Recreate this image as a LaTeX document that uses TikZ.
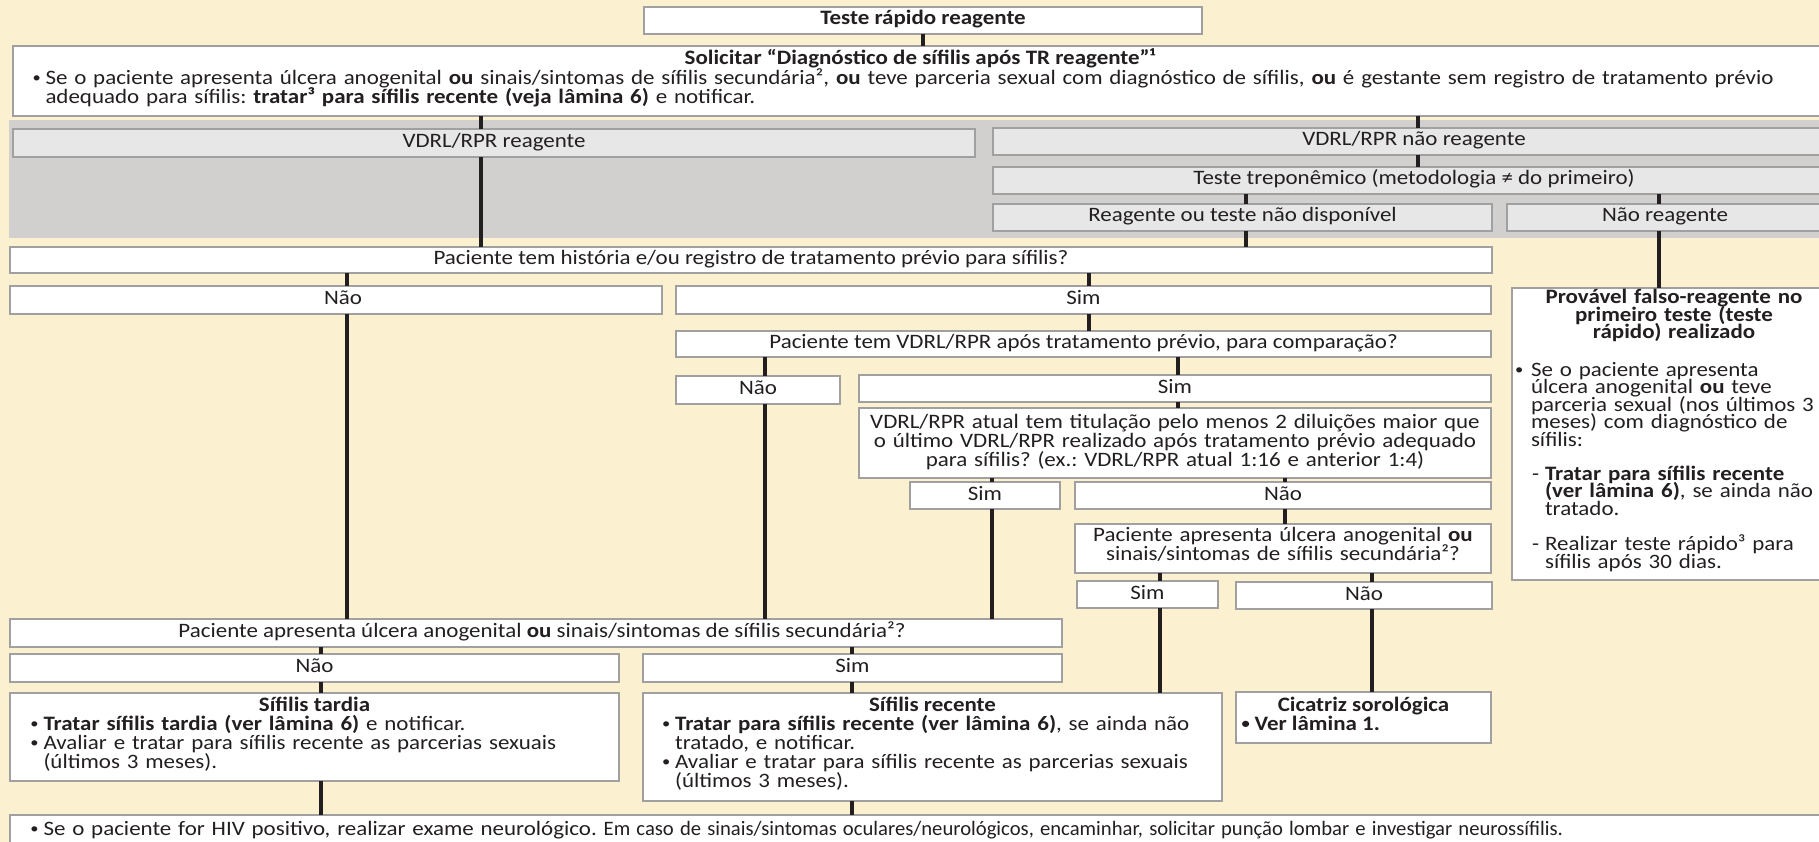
\documentclass[tikz,border=0pt]{standalone}
\usepackage{graphicx}
\usepackage{fontspec}
\setmainfont{Carlito}[FakeStretch=1.12]
\definecolor{cream}{RGB}{251,240,207}
\definecolor{bandgray}{RGB}{209,208,207}
\definecolor{boxgray}{RGB}{231,231,231}
\definecolor{edgegray}{RGB}{160,160,160}
\definecolor{ink}{RGB}{35,31,32}
\newcommand{\fsz}{\fontsize{20.5pt}{19pt}\selectfont\lineskiplimit=-40pt\frenchspacing\relax}
\newcommand{\fszt}{\fontsize{20.5pt}{17.5pt}\selectfont\lineskiplimit=-40pt\frenchspacing\relax}
\newcommand{\fszp}{\fontsize{20.5pt}{17.5pt}\selectfont\lineskiplimit=-40pt\frenchspacing\relax}
\newcommand{\smbul}{\raisebox{1.8pt}{\scalebox{0.72}{•}}}
\newcommand{\mybul}{\makebox[13.5pt][l]{\hspace{0.5pt}\smbul}}
\newcommand{\myind}{\hspace*{13.5pt}}
\lineskiplimit=-40pt
\frenchspacing
\begin{document}
\begin{tikzpicture}[x=1pt,y=-1pt,
  box/.style={draw=edgegray, line width=1.6pt, fill=white, anchor=north west, inner sep=0pt, outer sep=0pt, text=ink, font=\fsz, text height=13pt, text depth=4pt},
  gbox/.style={box, fill=boxgray},
  txt/.style={inner sep=0pt, outer sep=0pt, text=ink, font=\fsz},
  conn/.style={draw=ink, line width=3.6pt}]
\useasboundingbox (0,0) rectangle (1819,842);
\clip (0,0) rectangle (1819,842);
\fill[cream] (0,0) rectangle (1819,842);
\fill[bandgray] (9,120) rectangle (1830,238);

% boxes
\node[box, minimum width=558pt, minimum height=27pt] (teste) at (644,7) {\bfseries Teste rápido reagente};
\node[box, minimum width=1822pt, minimum height=70pt] (solic) at (13,46) {};
\node[gbox, minimum width=962pt, minimum height=28pt] (vdrlr) at (13,129) {VDRL/RPR reagente};
\node[gbox, minimum width=842pt, minimum height=27pt] (vdrln) at (993,128) {VDRL/RPR não reagente};
\node[gbox, minimum width=842pt, minimum height=27pt] (trep) at (993,167) {Teste treponêmico (metodologia ≠ do primeiro)};
\node[gbox, minimum width=499pt, minimum height=27pt] (reag) at (993,204) {Reagente ou teste não disponível};
\node[gbox, minimum width=316pt, minimum height=27pt] (naoreag) at (1507,204) {Não reagente};
\node[box, minimum width=1482pt, minimum height=26pt] (hist) at (10,247) {Paciente tem história e/ou registro de tratamento prévio para sífilis?};
\node[box, minimum width=652pt, minimum height=28pt] (nao1) at (10,286) {\hspace*{14pt}Não};
\node[box, minimum width=815pt, minimum height=28pt] (sim1) at (676,286) {Sim};
\node[box, minimum width=815pt, minimum height=26pt] (pvdrl) at (676,331) {Paciente tem VDRL/RPR após tratamento prévio, para comparação?};
\node[box, minimum width=164pt, minimum height=28pt] (nao2) at (676,376) {Não};
\node[box, minimum width=632pt, minimum height=27pt] (sim2) at (859,375) {Sim};
\node[box, minimum width=632pt, minimum height=70pt] (atual) at (859,408) {};
\node[box, minimum width=150pt, minimum height=27pt] (sim3) at (910,482) {Sim};
\node[box, minimum width=416pt, minimum height=27pt] (nao3) at (1075,482) {Não};
\node[box, minimum width=416pt, minimum height=49pt] (apright) at (1075,524) {};
\node[box, minimum width=141pt, minimum height=27pt] (sim4) at (1077,581) {Sim};
\node[box, minimum width=256pt, minimum height=27pt] (nao4) at (1236,582) {Não};
\node[box, minimum width=255pt, minimum height=51pt] (cicatriz) at (1236,692) {};
\node[box, minimum width=323pt, minimum height=292pt] (prov) at (1512,288) {};
\node[box, minimum width=1052pt, minimum height=28pt] (apleft) at (10,619) {\hspace*{12pt}Paciente apresenta úlcera anogenital \textbf{ou} sinais/sintomas de sífilis secundária²?};
\node[box, minimum width=609pt, minimum height=28pt] (nao5) at (10,654) {Não};
\node[box, minimum width=419pt, minimum height=28pt] (sim5) at (643,654) {Sim};
\node[box, minimum width=609pt, minimum height=88pt] (tardia) at (10,693) {};
\node[box, minimum width=579pt, minimum height=108pt] (recente) at (643,693) {};
\node[box, minimum width=1825pt, minimum height=45pt] (hiv) at (10,815) {};

% multi-line texts
\node[txt, anchor=base] (solict) at (920,65) {\bfseries Solicitar “Diagnóstico de sífilis após TR reagente”¹};
\node[txt, anchor=base west, text width=1900pt, align=left] (solicb) at (32,84.5) {\mybul Se o paciente apresenta úlcera anogenital \textbf{ou} sinais/sintomas de sífilis secundária², \textbf{ou} teve parceria sexual com diagnóstico de sífilis, \textbf{ou} é gestante sem registro de tratamento prévio\\\myind adequado para sífilis: \textbf{tratar³ para sífilis recente (veja lâmina 6)} e notificar.};
\node[txt, anchor=base, text width=660pt, align=center] (atualt) at (1175,428) {VDRL/RPR atual tem titulação pelo menos 2 diluições maior que\\o último VDRL/RPR realizado após tratamento prévio adequado\\para sífilis? (ex.: VDRL/RPR atual 1:16 e anterior 1:4)};
\node[txt, anchor=base, text width=440pt, align=center] (aprightt) at (1283,541.7) {Paciente apresenta úlcera anogenital \textbf{ou}\\sinais/sintomas de sífilis secundária²?};
\node[txt, anchor=base] (cicatt) at (1363.5,711.7) {\bfseries Cicatriz sorológica};
\node[txt, anchor=base west] (cicatb) at (1241.7,730) {\bfseries\makebox[13pt][l]{\smbul}Ver lâmina 1.};
\node[txt, anchor=base, text width=330pt, align=center, font=\fszt\bfseries] (provt) at (1674,303.5) {Provável falso-reagente no\\primeiro teste (teste\\rápido) realizado};
\node[txt, anchor=base west, text width=330pt, align=left, font=\fszp] (provb1) at (1515,376) {\makebox[16pt][l]{\smbul}Se o paciente apresenta\\\hspace*{16pt}úlcera anogenital \textbf{ou} teve\\\hspace*{16pt}parceria sexual (nos últimos 3\\\hspace*{16pt}meses) com diagnóstico de\\\hspace*{16pt}sífilis:};
\node[txt, anchor=base west, text width=330pt, align=left, font=\fszp] (provb2) at (1532,480) {\makebox[13pt][l]{-}\textbf{Tratar para sífilis recente}\\\hspace*{13pt}\textbf{(ver lâmina 6)}, se ainda não\\\hspace*{13pt}tratado.};
\node[txt, anchor=base west, text width=330pt, align=left, font=\fszp] (provb3) at (1532,550.7) {\makebox[13pt][l]{-}Realizar teste rápido³ para\\\hspace*{13pt}sífilis após 30 dias.};
\node[txt, anchor=base] (tardt) at (314.5,711) {\bfseries Sífilis tardia};
\node[txt, anchor=base west, text width=600pt, align=left] (tardb) at (30,730) {\mybul\textbf{Tratar sífilis tardia (ver lâmina 6)} e notificar.\\\mybul Avaliar e tratar para sífilis recente as parcerias sexuais\\\myind(últimos 3 meses).};
\node[txt, anchor=base] (recet) at (932.5,711) {\bfseries Sífilis recente};
\node[txt, anchor=base west, text width=600pt, align=left] (receb) at (661.6,730) {\mybul\textbf{Tratar para sífilis recente (ver lâmina 6)}, se ainda não\\\myind tratado, e notificar.\\\mybul Avaliar e tratar para sífilis recente as parcerias sexuais\\\myind(últimos 3 meses).};
\node[txt, anchor=base west, text width=1900pt, align=left] (hivt) at (30,835) {\mybul Se o paciente for HIV positivo, realizar exame neurológico. \scalebox{0.9}[1]{Em caso de sinais/sintomas oculares/neurológicos, encaminhar, solicitar punção lombar e investigar neurossífilis.}};

% connector lanes
\coordinate (L923) at (923,0);
\coordinate (L481) at (481,0);
\coordinate (L1418) at (1418,0);
\coordinate (L1246) at (1246,0);
\coordinate (L1659) at (1659,0);
\coordinate (L347) at (347,0);
\coordinate (L1089) at (1089,0);
\coordinate (L765) at (765,0);
\coordinate (L1178) at (1178,0);
\coordinate (L992) at (992,0);
\coordinate (L1285) at (1285,0);
\coordinate (L1160) at (1160,0);
\coordinate (L1372) at (1372,0);
\coordinate (L321) at (321,0);
\coordinate (L852) at (852,0);

\draw[conn] (teste.south -| L923) -- (solic.north -| L923);
\draw[conn] (solic.south -| L481) -- (vdrlr.north -| L481);
\draw[conn] (solic.south -| L1418) -- (vdrln.north -| L1418);
\draw[conn] (vdrlr.south -| L481) -- (hist.north -| L481);
\draw[conn] (vdrln.south -| L1418) -- (trep.north -| L1418);
\draw[conn] (trep.south -| L1246) -- (reag.north -| L1246);
\draw[conn] (trep.south -| L1659) -- (naoreag.north -| L1659);
\draw[conn] (reag.south -| L1246) -- (hist.north -| L1246);
\draw[conn] (naoreag.south -| L1659) -- (prov.north -| L1659);
\draw[conn] (hist.south -| L347) -- (nao1.north -| L347);
\draw[conn] (hist.south -| L1089) -- (sim1.north -| L1089);
\draw[conn] (sim1.south -| L1089) -- (pvdrl.north -| L1089);
\draw[conn] (pvdrl.south -| L765) -- (nao2.north -| L765);
\draw[conn] (pvdrl.south -| L1178) -- (sim2.north -| L1178);
\draw[conn] (sim2.south -| L1178) -- (atual.north -| L1178);
\draw[conn] (atual.south -| L992) -- (sim3.north -| L992);
\draw[conn] (atual.south -| L1285) -- (nao3.north -| L1285);
\draw[conn] (nao3.south -| L1285) -- (apright.north -| L1285);
\draw[conn] (apright.south -| L1160) -- (sim4.north -| L1160);
\draw[conn] (apright.south -| L1372) -- (nao4.north -| L1372);
\draw[conn] (sim4.south -| L1160) -- (recente.north -| L1160);
\draw[conn] (nao4.south -| L1372) -- (cicatriz.north -| L1372);
\draw[conn] (nao1.south -| L347) -- (apleft.north -| L347);
\draw[conn] (nao2.south -| L765) -- (apleft.north -| L765);
\draw[conn] (sim3.south -| L992) -- (apleft.north -| L992);
\draw[conn] (apleft.south -| L321) -- (nao5.north -| L321);
\draw[conn] (apleft.south -| L852) -- (sim5.north -| L852);
\draw[conn] (nao5.south -| L321) -- (tardia.north -| L321);
\draw[conn] (sim5.south -| L852) -- (recente.north -| L852);
\draw[conn] (tardia.south -| L321) -- (hiv.north -| L321);
\draw[conn] (recente.south -| L852) -- (hiv.north -| L852);
\end{tikzpicture}
\end{document}
